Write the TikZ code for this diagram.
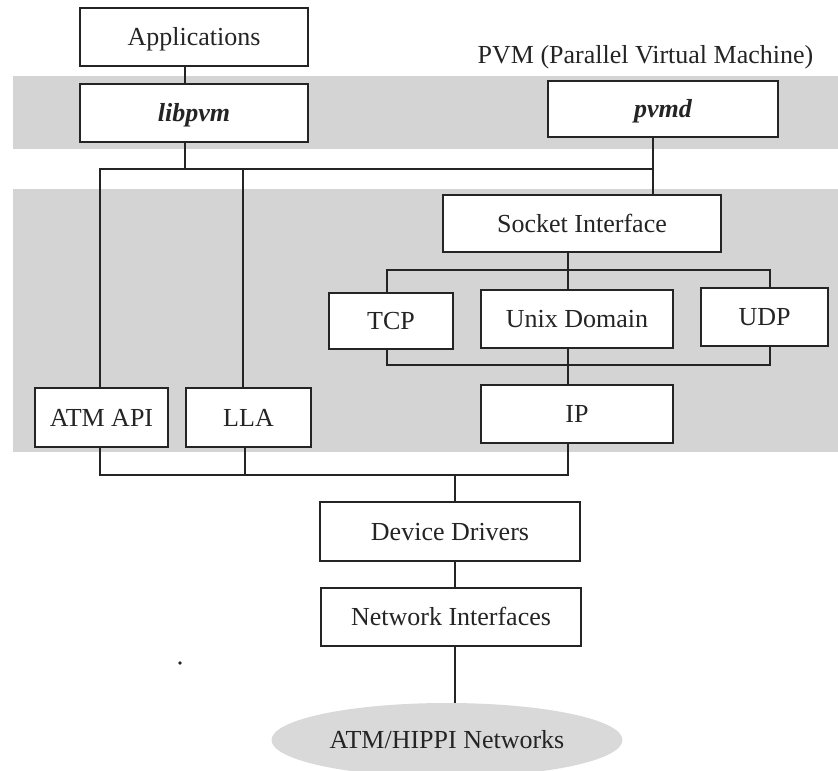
\documentclass[tikz,border=0pt]{standalone}
\usepackage{fontspec}
\setmainfont{Liberation Serif}
\usetikzlibrary{shapes.geometric}
\definecolor{inkc}{rgb}{0.14,0.14,0.14}
\definecolor{bandgray}{rgb}{0.83,0.83,0.83}
\definecolor{netgray}{rgb}{0.85,0.85,0.85}
\tikzset{
  layerbox/.style={draw=inkc, fill=white, line width=1.8pt, inner sep=0pt,
    text height=17pt, text depth=0pt, text=inkc,
    font=\fontsize{26}{30}\selectfont},
  wire/.style={draw=inkc, line width=1.7pt},
}
\begin{document}
\begin{tikzpicture}[x=1pt,y=-1pt]
\useasboundingbox (0,0) rectangle (838,771);

% shaded layers
\fill[bandgray] (13,76) rectangle (838,149);
\fill[bandgray] (13,189) rectangle (838,452);

% title
\node[anchor=base, text=inkc, font=\fontsize{26}{30}\selectfont, inner sep=0pt]
  (title) at (645.5,63) {PVM (Parallel Virtual Machine)};

% boxes
\node[layerbox, minimum width=228pt, minimum height=58pt] (app) at (194,37) {Applications};
\node[layerbox, minimum width=228pt, minimum height=58pt,
      font=\fontsize{26}{30}\selectfont\bfseries\itshape] (libpvm) at (194,113) {libpvm};
\node[layerbox, minimum width=230pt, minimum height=56pt,
      font=\fontsize{26}{30}\selectfont\bfseries\itshape] (pvmd) at (663,109) {pvmd};
\node[layerbox, minimum width=278pt, minimum height=57pt] (sock) at (582,223.5) {Socket Interface};
\node[layerbox, minimum width=124pt, minimum height=56pt] (tcp) at (391,321) {TCP};
\node[layerbox, minimum width=192pt, minimum height=58pt] (unix) at (577,319) {Unix Domain};
\node[layerbox, minimum width=127pt, minimum height=58pt] (udp) at (764.5,317) {UDP};
\node[layerbox, minimum width=192pt, minimum height=58pt] (ip) at (577,414) {IP};
\node[layerbox, minimum width=133pt, minimum height=59pt] (atm) at (101.5,417.5) {ATM API};
\node[layerbox, minimum width=125pt, minimum height=59pt] (lla) at (248.5,417.5) {LLA};
\node[layerbox, minimum width=260pt, minimum height=59pt] (dd) at (450,531.5) {Device Drivers};
\node[layerbox, minimum width=260pt, minimum height=58pt] (ni) at (451,617) {Network Interfaces};
\node[ellipse, fill=netgray, inner sep=0pt, minimum width=351pt, minimum height=74pt,
      text=inkc, font=\fontsize{26}{30}\selectfont, text height=17pt, text depth=0pt]
  (net) at (447,740) {ATM/HIPPI Networks};

% junction points
\coordinate (b1l) at (100,169);
\coordinate (b1m) at (185,169);
\coordinate (b1a) at (243,169);
\coordinate (b1r) at (653,169);
\coordinate (b2l) at (387,270);
\coordinate (b2m) at (568,270);
\coordinate (b2r) at (770,270);
\coordinate (b3l) at (387,365);
\coordinate (b3m) at (568,365);
\coordinate (b3r) at (770,365);
\coordinate (b4l) at (100,475);
\coordinate (b4a) at (245,475);
\coordinate (b4d) at (455,475);
\coordinate (b4r) at (568,475);

% connectors
\draw[wire] (app.south -| b1m) -- (libpvm.north -| b1m);
\draw[wire] (libpvm.south -| b1m) -- (b1m);
\draw[wire] (atm.north -| b1l) -- (b1l) -- (b1r);
\draw[wire] (lla.north -| b1a) -- (b1a);
\draw[wire] (pvmd.south -| b1r) -- (sock.north -| b1r);

\draw[wire] (sock.south -| b2m) -- (unix.north -| b2m);
\draw[wire] (tcp.north -| b2l) -- (b2l) -- (b2r) -- (udp.north -| b2r);
\draw[wire] (tcp.south -| b3l) -- (b3l) -- (b3r) -- (udp.south -| b3r);
\draw[wire] (unix.south -| b3m) -- (ip.north -| b3m);

\draw[wire] (atm.south -| b4l) -- (b4l) -- (b4r) -- (ip.south -| b4r);
\draw[wire] (lla.south -| b4a) -- (b4a);
\draw[wire] (b4d) -- (dd.north -| b4d);
\draw[wire] (dd.south -| b4d) -- (ni.north -| b4d);
\draw[wire] (ni.south -| b4d) -- (net.north -| b4d);

% stray ink dot
\fill[inkc] (180,663) circle (1.8pt);
\end{tikzpicture}
\end{document}
